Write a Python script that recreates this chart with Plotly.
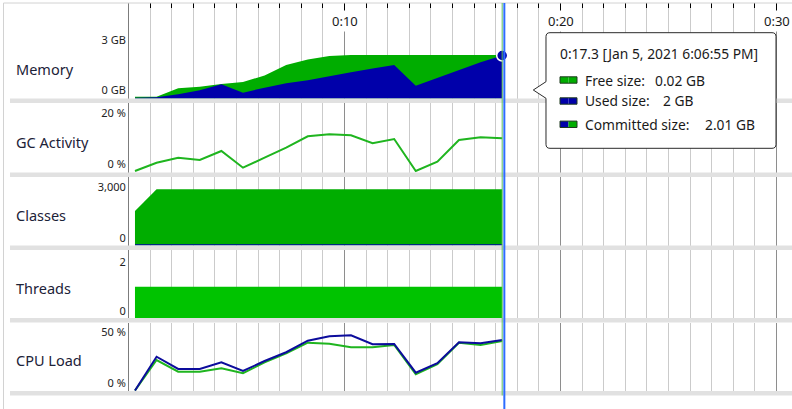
import plotly.graph_objects as go

W, H = 792, 409

# ---------------- data ----------------
times_s = [0.3, 1.3, 2.3, 3.3, 4.3, 5.3, 6.3, 7.3, 8.3, 9.3, 10.3, 11.3, 12.3, 13.3, 14.3, 15.3, 16.3, 17.3]

mem_committed_gb = [0.08, 0.08, 0.58, 0.67, 0.84, 0.96, 1.35, 1.98, 2.31, 2.52, 2.58, 2.58, 2.58, 2.58, 2.58, 2.58, 2.58, 2.58]
mem_used_gb = [0.01, 0.04, 0.22, 0.46, 0.82, 0.32, 0.62, 0.88, 1.06, 1.32, 1.55, 1.77, 1.98, 0.74, 1.21, 1.68, 2.15, 2.55]

gc_activity_pct = [0.0, 3.27, 5.25, 4.34, 7.89, 1.30, 5.25, 9.19, 13.69, 14.48, 14.08, 10.93, 12.62, 0.0, 3.67, 12.23, 13.29, 12.90]

classes_loaded = [1992, 3264, 3264, 3264, 3264, 3264, 3264, 3264, 3264, 3264, 3264, 3264, 3264, 3264, 3264, 3264, 3264, 3264]
classes_unloaded = [0, 0, 0, 0, 0, 0, 0, 0, 0, 0, 0, 0, 0, 0, 0, 0, 0, 0]

threads_live = [1, 1, 1, 1, 1, 1, 1, 1, 1, 1, 1, 1, 1, 1, 1, 1, 1, 1]

cpu_machine_pct = [0.0, 33.1, 21.1, 21.1, 27.6, 19.1, 28.9, 37.5, 48.8, 53.1, 54.1, 45.3, 45.6, 17.5, 26.7, 47.3, 46.3, 49.5]
cpu_jvm_pct = [0.0, 29.9, 18.4, 18.4, 21.8, 16.9, 27.5, 36.5, 46.9, 45.9, 42.4, 42.4, 44.6, 15.9, 25.7, 46.8, 44.6, 48.5]

panel_titles = ["Memory", "GC Activity", "Classes", "Threads", "CPU Load"]
time_tick_values = [10, 20, 30]
time_tick_labels = ["0:10", "0:20", "0:30"]
cursor_time = 17.4
tooltip_header = "0:17.3 [Jan 5, 2021 6:06:55 PM]"
tooltip_labels = ["Free size:", "Used size:", "Committed size:"]
tooltip_values = ["0.02 GB", "2 GB", "2.01 GB"]

# ---------------- styling / geometry ----------------
FONT = "Noto Sans"
GREEN = "#00ad00"
BLUE = "#0000aa"
THREAD_GREEN = "#00c300"
LINE_GREEN = "#1fb51f"
LINE_BLUE = "#0c0c9c"
SEP = "#e1e1e1"

def px(x):
    return x / W

def py(y):
    return 1 - y / H

# time -> pixel: x = 128.5 + 21.6 * t
T0_PX, PPS = 128.5, 21.6
X_LEFT, X_RIGHT = 129.0, 792.0
x_range = [(X_LEFT - T0_PX) / PPS, (X_RIGHT - T0_PX) / PPS]

# panels: top px, bottom px, zero px, pixels per unit, tickvals, ticktext, label shift (px, up)
panels = [
    dict(top=3, bottom=98.5, zero=98.0, ppu=50 / 3, tv=[0, 3], tt=["0 GB", "3 GB"], shift=8),
    dict(top=103, bottom=172.5, zero=171.0, ppu=2.535, tv=[0, 20], tt=["0 %", "20 %"], shift=7),
    dict(top=177, bottom=245.5, zero=245.0, ppu=51.2 / 3000, tv=[0, 3000], tt=["0", "3,000"], shift=7),
    dict(top=250, bottom=318, zero=311.5, ppu=24.75, tv=[0, 2], tt=["0", "2"], shift=0),
    dict(top=322.5, bottom=391, zero=390.5, ppu=1.02, tv=[0, 50], tt=["0 %", "50 %"], shift=7),
]
title_y = [69, 141.5, 215, 288, 360]
for p in panels:
    p["rng"] = [(p["zero"] - p["bottom"]) / p["ppu"], (p["zero"] - p["top"]) / p["ppu"]]

fig = go.Figure()

def area(vals, color, idx):
    ymin = panels[idx - 1]["rng"][0] - 1
    xs = list(times_s) + [times_s[-1], times_s[0]]
    ys = list(vals) + [ymin, ymin]
    fig.add_trace(go.Scatter(x=xs, y=ys, fill="toself", fillcolor=color, mode="lines",
                             line=dict(width=0, color=color), xaxis=f"x{idx}", yaxis=f"y{idx}",
                             hoverinfo="skip"))

def line(vals, color, idx, width=2):
    fig.add_trace(go.Scatter(x=times_s, y=vals, mode="lines", line=dict(color=color, width=width),
                             xaxis=f"x{idx}", yaxis=f"y{idx}", hoverinfo="skip"))

# Memory
area(mem_committed_gb, GREEN, 1)
area(mem_used_gb, BLUE, 1)
fig.add_trace(go.Scatter(x=[times_s[-1]], y=[mem_used_gb[-1]], mode="markers",
                         marker=dict(size=11, color=BLUE, line=dict(color="white", width=1.5)),
                         xaxis="x1", yaxis="y1", cliponaxis=False, hoverinfo="skip"))
# GC
line(gc_activity_pct, LINE_GREEN, 2)
# Classes
area(classes_loaded, GREEN, 3)
line(classes_unloaded, BLUE, 3, width=1.5)
# Threads
area(threads_live, THREAD_GREEN, 4)
# CPU
line(cpu_jvm_pct, LINE_GREEN, 5)
line(cpu_machine_pct, LINE_BLUE, 5)

layout = dict(width=W, height=H, margin=dict(l=0, r=0, t=0, b=0, autoexpand=False),
              paper_bgcolor="white", plot_bgcolor="white", showlegend=False,
              font=dict(family=FONT, color="#222222"))

for i, p in enumerate(panels, start=1):
    xa = dict(domain=[px(X_LEFT), 1], range=x_range, anchor=f"y{i}", automargin=False,
              showgrid=True, tick0=0, dtick=10, gridcolor="#8e8e8e", gridwidth=1,
              minor=dict(tick0=0, dtick=1, showgrid=True, gridcolor="#cbcbcb", gridwidth=1),
              zeroline=False, showticklabels=False, ticks="", showline=False, fixedrange=True)
    if i == 1:
        xa.update(side="top", ticks="inside", ticklen=11, tickcolor="black", tickwidth=1)
        xa["minor"].update(ticks="inside", ticklen=5, tickcolor="black", tickwidth=1)
    ya = dict(domain=[py(p["bottom"]), py(p["top"])], range=p["rng"], anchor=f"x{i}",
              automargin=False,
              tickmode="array", tickvals=p["tv"], ticktext=p["tt"], showgrid=False,
              zeroline=False, showline=True, linecolor="#7c7c7c", linewidth=1, ticks="",
              tickfont=dict(size=11, color="#222222", family=FONT), ticklabelshift=-p["shift"],
              fixedrange=True)
    layout[f"xaxis{i}"] = xa
    layout[f"yaxis{i}"] = ya

fig.update_layout(**layout)

shapes = []
# frame
shapes.append(dict(type="line", xref="paper", yref="paper", x0=px(3.5), x1=px(792), y0=py(3), y1=py(3),
                   line=dict(color="#d2d2d2", width=1), layer="above"))
shapes.append(dict(type="line", xref="paper", yref="paper", x0=px(3.5), x1=px(3.5), y0=py(3), y1=py(409),
                   line=dict(color="#d2d2d2", width=1), layer="above"))
# separators
for p in panels:
    shapes.append(dict(type="rect", xref="paper", yref="paper", x0=px(10), x1=px(792),
                       y0=py(p["bottom"]), y1=py(p["bottom"] + 4.5), fillcolor=SEP,
                       line=dict(width=0), layer="above"))
# thin green end-of-data line and blue cursor line
shapes.append(dict(type="line", xref="x1", yref="paper", x0=times_s[-1], x1=times_s[-1],
                   y0=py(3), y1=py(395.5), line=dict(color="#5cbf5c", width=1), layer="above"))
shapes.append(dict(type="line", xref="x1", yref="paper", x0=cursor_time, x1=cursor_time,
                   y0=py(3), y1=py(409), line=dict(color="#2d6cff", width=2), layer="above"))

# tooltip callout
bx0, bx1, by0, by1, r = 546, 776, 32.7, 148.3, 4
tip = (533.3, 90)
pts = [
    ("M", bx0 + r, by0), ("L", bx1 - r, by0), ("Q", bx1, by0, bx1, by0 + r),
    ("L", bx1, by1 - r), ("Q", bx1, by1, bx1 - r, by1), ("L", bx0 + r, by1),
    ("Q", bx0, by1, bx0, by1 - r), ("L", bx0, 98.3), ("L", tip[0], tip[1]), ("L", bx0, 81.7),
    ("L", bx0, by0 + r), ("Q", bx0, by0, bx0 + r, by0),
]
path = ""
for seg in pts:
    cmd = seg[0]
    coords = seg[1:]
    s = cmd
    for k in range(0, len(coords), 2):
        s += f" {px(coords[k]):.5f},{py(coords[k+1]):.5f}"
    path += s + " "
path += "Z"
shapes.append(dict(type="path", xref="paper", yref="paper", path=path, fillcolor="white",
                   line=dict(color="#2a2a2a", width=1), layer="above"))

row_y = [80, 101, 124.3]
value_x = [654, 661.5, 704]
swatch_colors = [(GREEN, GREEN), (BLUE, BLUE), (BLUE, GREEN)]
for (c1, c2), yy in zip(swatch_colors, row_y):
    shapes.append(dict(type="rect", xref="paper", yref="paper", x0=px(560), x1=px(568.5),
                       y0=py(yy + 3.2), y1=py(yy - 3.2), fillcolor=c1, line=dict(width=0), layer="above"))
    shapes.append(dict(type="rect", xref="paper", yref="paper", x0=px(568.5), x1=px(577),
                       y0=py(yy + 3.2), y1=py(yy - 3.2), fillcolor=c2, line=dict(width=0), layer="above"))
    shapes.append(dict(type="rect", xref="paper", yref="paper", x0=px(560), x1=px(577),
                       y0=py(yy + 3.2), y1=py(yy - 3.2), fillcolor="rgba(0,0,0,0)",
                       line=dict(width=1, color="#1e3a1e"), layer="above"))

fig.update_layout(shapes=shapes)

TT = 13.8
ann = []
for t, yy in zip(panel_titles, title_y):
    ann.append(dict(text=t, xref="paper", yref="paper", x=px(14), y=py(yy), xanchor="left",
                    yanchor="middle", showarrow=False, font=dict(size=14.5, color="#1c2238", family=FONT)))
for tv, tl in zip(time_tick_values, time_tick_labels):
    ann.append(dict(text=tl, xref="x1", yref="paper", x=tv, y=py(20.5), xanchor="center",
                    yanchor="middle", showarrow=False, bgcolor="white", borderpad=1,
                    font=dict(size=13, color="#1a1a1a", family=FONT)))
ann.append(dict(text=tooltip_header, xref="paper", yref="paper", x=px(557.5), y=py(53.3),
                xanchor="left", yanchor="middle", showarrow=False,
                font=dict(size=TT, color="#1a1a1a", family=FONT)))
for lab, val, yy, vx in zip(tooltip_labels, tooltip_values, row_y, value_x):
    ann.append(dict(text=lab, xref="paper", yref="paper", x=px(582.5), y=py(yy),
                    xanchor="left", yanchor="middle", showarrow=False,
                    font=dict(size=TT, color="#1a1a1a", family=FONT)))
    ann.append(dict(text=val, xref="paper", yref="paper", x=px(vx - 1), y=py(yy),
                    xanchor="left", yanchor="middle", showarrow=False,
                    font=dict(size=TT, color="#1a1a1a", family=FONT)))
fig.update_layout(annotations=ann)

fig.write_html("out.html",
               config={"displayModeBar": False, "staticPlot": True},
               post_script="document.body.style.margin='0';document.body.style.padding='0';"
                           "document.documentElement.style.overflow='hidden';")
